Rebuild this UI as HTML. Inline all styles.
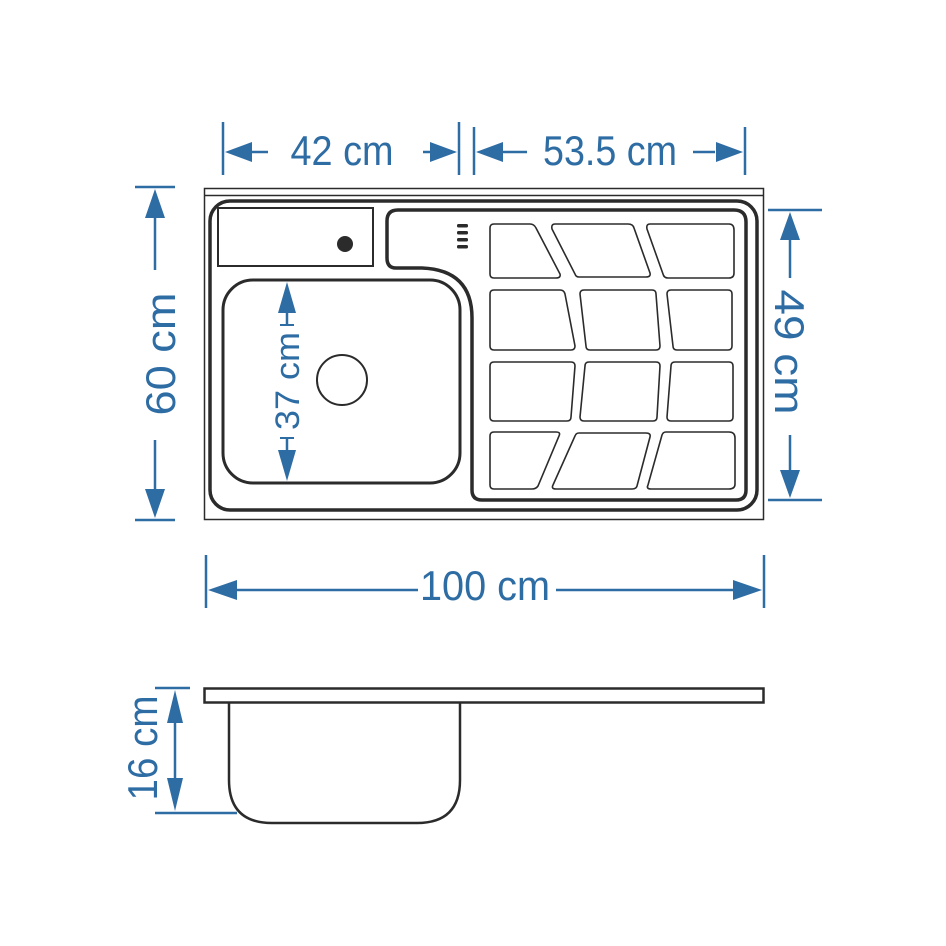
<!DOCTYPE html>
<html><head><style>html,body{margin:0;padding:0;background:#fff}svg{display:block}</style></head>
<body>
<svg width="946" height="946" viewBox="0 0 946 946" xmlns="http://www.w3.org/2000/svg">
<g fill="none" stroke="#2b2b2b">
  <rect x="204.5" y="188.5" width="559" height="331" stroke-width="1.5"/>
  <line x1="204" y1="195.5" x2="764" y2="195.5" stroke-width="1.5"/>
  <rect x="210" y="201" width="547" height="309" rx="20" stroke-width="3.5"/>
  <rect x="218" y="208" width="155" height="58" stroke-width="2"/>
  <rect x="223" y="280" width="237" height="203" rx="30" stroke-width="3"/>
  <circle cx="342" cy="380" r="25" stroke-width="2"/>
  <path d="M398 210 H734 Q746 210 746 222 V490 Q746 500 736 500 H482 Q472 500 472 490 V318 Q472 270 422 268 H396 Q387 268 387 258 V221 Q387 210 398 210 Z" stroke-width="3.5"/>
  <g stroke-width="1.6">
    <path d="M494 224 H530 Q534 224 536 228 L560 274 Q561 278 556 278 H494 Q490 278 490 274 V228 Q490 224 494 224Z"/>
    <path d="M555 224 H628 Q633 224 634 228 L650 273 Q651 277 646 277 H579 Q576 277 575 274 L552 229 Q551 224 555 224Z"/>
    <path d="M650 224 H729 Q734 224 734 230 V273 Q734 278 729 278 H668 Q664 278 663 274 L647 229 Q646 224 650 224Z"/>
    <path d="M494 290 H560 Q564 290 565 294 L575 346 Q575 350 571 350 H494 Q490 350 490 346 V294 Q490 290 494 290Z"/>
    <path d="M584 290 H652 Q656 290 656 294 L660 346 Q660 350 656 350 H590 Q586 350 586 346 L580 294 Q580 290 584 290Z"/>
    <path d="M671 290 H728 Q732 290 732 294 V346 Q732 350 728 350 H677 Q673 350 673 346 L667 294 Q667 290 671 290Z"/>
    <path d="M494 362 H571 Q575 362 575 366 L571 417 Q571 421 567 421 H494 Q490 421 490 417 V366 Q490 362 494 362Z"/>
    <path d="M589 362 H656 Q660 362 660 366 L657 417 Q657 421 653 421 H584 Q580 421 580 417 L585 366 Q585 362 589 362Z"/>
    <path d="M675 362 H729 Q733 362 733 366 V417 Q733 421 729 421 H671 Q667 421 667 417 L671 366 Q671 362 675 362Z"/>
    <path d="M494 432 H556 Q561 432 559 436 L538 486 Q536 489 532 489 H494 Q490 489 490 485 V436 Q490 432 494 432Z"/>
    <path d="M579 433 H646 Q651 433 650 437 L637 486 Q636 489 632 489 H556 Q551 489 553 485 L575 436 Q576 433 579 433Z"/>
    <path d="M666 432 H729 Q735 432 735 438 V484 Q735 489 729 489 H651 Q646 489 648 485 L662 435 Q663 432 666 432Z"/>
  </g>
</g>
<circle cx="345" cy="244" r="8" fill="#2b2b2b"/>
<g fill="#2b2b2b">
  <rect x="457" y="224" width="11" height="3.5" rx="1.5"/>
  <rect x="457" y="231" width="11" height="3.5" rx="1.5"/>
  <rect x="457" y="238" width="11" height="3.5" rx="1.5"/>
  <rect x="457" y="245" width="11" height="3.5" rx="1.5"/>
</g>
<g fill="none" stroke="#2b2b2b">
  <rect x="204.5" y="688.5" width="559" height="14" stroke-width="2.5"/>
  <path d="M229 703 V780 Q229 823 272 823 H417 Q460 823 460 780 V703" stroke-width="2.5"/>
</g>
<g stroke="#2e6ca4" fill="#2e6ca4" stroke-width="2.5">
  <line x1="223" y1="122" x2="223" y2="175"/>
  <line x1="459" y1="122" x2="459" y2="175"/>
  <line x1="474" y1="127" x2="474" y2="175"/>
  <line x1="745" y1="127" x2="745" y2="175"/>
  <line x1="245" y1="152" x2="268" y2="152"/><polygon points="225,152 252,142 252,162" stroke="none"/>
  <line x1="423" y1="152" x2="440" y2="152"/><polygon points="457,152 430,142 430,162" stroke="none"/>
  <line x1="495" y1="152" x2="527" y2="152"/><polygon points="476,152 503,142 503,162" stroke="none"/>
  <line x1="693" y1="152" x2="715" y2="152"/><polygon points="743,152 716,142 716,162" stroke="none"/>
  <line x1="135" y1="187" x2="175" y2="187"/>
  <line x1="135" y1="520" x2="175" y2="520"/>
  <line x1="155" y1="210" x2="155" y2="270"/><polygon points="155,189 145,218 165,218" stroke="none"/>
  <line x1="155" y1="440" x2="155" y2="500"/><polygon points="155,518 145,489 165,489" stroke="none"/>
  <line x1="768" y1="210" x2="822" y2="210"/>
  <line x1="768" y1="500" x2="822" y2="500"/>
  <line x1="790" y1="230" x2="790" y2="278"/><polygon points="790,212 780,240 800,240" stroke="none"/>
  <line x1="790" y1="435" x2="790" y2="480"/><polygon points="790,498 780,470 800,470" stroke="none"/>
  <line x1="206" y1="555" x2="206" y2="608"/>
  <line x1="764" y1="555" x2="764" y2="608"/>
  <line x1="230" y1="590" x2="418" y2="590"/><polygon points="208,590 237,580 237,600" stroke="none"/>
  <line x1="556" y1="590" x2="740" y2="590"/><polygon points="762,590 733,580 733,600" stroke="none"/>
  <line x1="287" y1="300" x2="287" y2="325"/><line x1="280" y1="325" x2="294" y2="325" stroke-width="2"/>
  <polygon points="287,282 278,313 296,313" stroke="none"/>
  <line x1="287" y1="438" x2="287" y2="462"/><line x1="280" y1="438" x2="294" y2="438" stroke-width="2"/>
  <polygon points="287,481 278,450 296,450" stroke="none"/>
  <line x1="155" y1="688" x2="190" y2="688"/>
  <line x1="155" y1="813" x2="237" y2="813"/>
  <line x1="175" y1="700" x2="175" y2="800"/>
  <polygon points="175,690 167,723 183,723" stroke="none"/>
  <polygon points="175,811 167,778 183,778" stroke="none"/>
</g>
<g fill="#2e6ca4" font-family="Liberation Sans, sans-serif" font-size="42" text-anchor="middle">
  <text x="342" y="165" textLength="103" lengthAdjust="spacingAndGlyphs">42 cm</text>
  <text x="610" y="165" textLength="134" lengthAdjust="spacingAndGlyphs">53.5 cm</text>
  <text x="485" y="600" textLength="130" lengthAdjust="spacingAndGlyphs">100 cm</text>
  <text transform="translate(175,354) rotate(-90)" textLength="123" lengthAdjust="spacingAndGlyphs">60 cm</text>
  <text transform="translate(775,352) rotate(90)" textLength="125" lengthAdjust="spacingAndGlyphs">49 cm</text>
  <text transform="translate(157,748) rotate(-90)" textLength="105" lengthAdjust="spacingAndGlyphs">16 cm</text>
  <text font-size="34" transform="translate(299,381) rotate(-90)" textLength="98" lengthAdjust="spacingAndGlyphs">37 cm</text>
</g>
</svg>
</body></html>
